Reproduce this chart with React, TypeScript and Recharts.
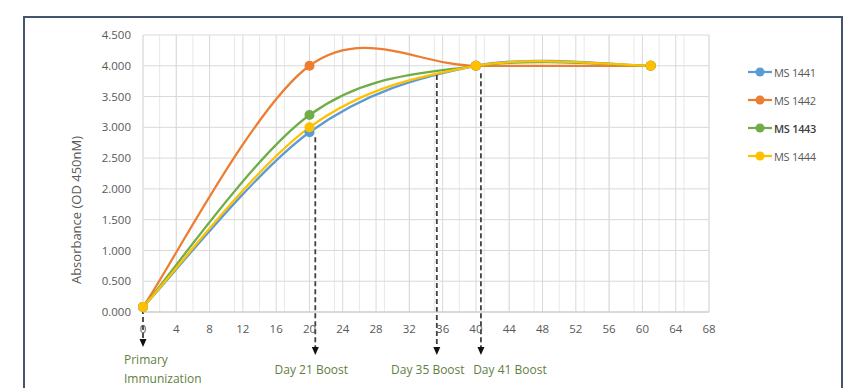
import React from 'react';
import { LineChart, Line, XAxis, YAxis, CartesianGrid, ReferenceLine } from 'recharts';

// ---- data ----
const days = [0, 20, 40, 61];
const ms1441 = [0.08, 2.92, 4.0, 4.0];
const ms1442 = [0.08, 4.0, 4.0, 4.0];
const ms1443 = [0.08, 3.2, 4.0, 4.0];
const ms1444 = [0.08, 3.0, 4.0, 4.0];

const seriesNames = ['MS 1441', 'MS 1442', 'MS 1443', 'MS 1444'];
const seriesValues = [ms1441, ms1442, ms1443, ms1444];
const seriesColors = ['#5b9bd5', '#ed7d31', '#70ad47', '#ffc000'];

const xTicks = [0, 4, 8, 12, 16, 20, 24, 28, 32, 36, 40, 44, 48, 52, 56, 60, 64, 68];
const xMinorTicks = [
  0, 1, 2, 3, 4, 5, 6, 7, 8, 9, 10, 11, 12, 13, 14, 15, 16, 17, 18, 19, 20, 21, 22, 23, 24,
  25, 26, 27, 28, 29, 30, 31, 32, 33, 34, 35, 36, 37, 38, 39, 40, 41, 42, 43, 44, 45, 46, 47,
  48, 49, 50, 51, 52, 53, 54, 55, 56, 57, 58, 59, 60, 61, 62, 63, 64, 65, 66, 67, 68,
];
const yTicks = [0, 0.5, 1, 1.5, 2, 2.5, 3, 3.5, 4, 4.5];

// annotation arrows (day, top value, bottom value)
const boostLabels = [['Primary', 'Immunization'], ['Day 21 Boost'], ['Day 35 Boost'], ['Day 41 Boost']];
const boostDays = [0, 20.7, 35.3, 40.6];
const boostTop = [0.05, 2.84, 3.85, 3.88];
const boostBottom = [-0.57, -0.7, -0.7, -0.7];

const chartData = days.map((d, i) => {
  const row: any = { day: d };
  seriesNames.forEach((n, s) => (row[n] = seriesValues[s][i]));
  return row;
});

// Excel-like smoothed line (Bezier with 1/6 tangents)
function excelCurve(context: any) {
  let pts: number[][] = [];
  return {
    areaStart() {},
    areaEnd() {},
    lineStart() {
      pts = [];
    },
    point(x: number, y: number) {
      pts.push([+x, +y]);
    },
    lineEnd() {
      const n = pts.length;
      if (!n) return;
      context.moveTo(pts[0][0], pts[0][1]);
      for (let i = 0; i < n - 1; i++) {
        const p0 = pts[Math.max(i - 1, 0)];
        const p1 = pts[i];
        const p2 = pts[i + 1];
        const p3 = pts[Math.min(i + 2, n - 1)];
        const c1x = p1[0] + (p2[0] - p0[0]) / 6;
        const c1y = p1[1] + (p2[1] - p0[1]) / 6;
        const c2x = p2[0] - (p3[0] - p1[0]) / 6;
        const c2y = p2[1] - (p3[1] - p1[1]) / 6;
        context.bezierCurveTo(c1x, c1y, c2x, c2y, p2[0], p2[1]);
      }
    },
  };
}

const FONT = '"Open Sans", "Liberation Sans", sans-serif';
const labelDx = [-19, -4, -9, 29];

const makeArrowShape = (idx: number) => (props: any) => {
  const x = props.x1;
  const yTop = Math.min(props.y1, props.y2);
  const yTip = Math.max(props.y1, props.y2);
  const lines = boostLabels[idx];
  const green = '#5f7f3f';
  return (
    <g>
      <line x1={x} y1={yTop} x2={x} y2={yTip - 7} stroke="#404040" strokeWidth={1.8} strokeDasharray="5 3" />
      <polygon points={`${x - 3.5},${yTip - 8} ${x + 3.5},${yTip - 8} ${x},${yTip}`} fill="#111" />
      {lines.length === 2 ? (
        <text x={x + labelDx[idx]} y={yTip + 17} fontFamily={FONT} fontSize={12} fill={green} textAnchor="start">
          <tspan x={x + labelDx[idx]}>{lines[0]}</tspan>
          <tspan x={x + labelDx[idx]} dy={19}>{lines[1]}</tspan>
        </text>
      ) : (
        <text x={x + labelDx[idx]} y={yTip + 19} fontFamily={FONT} fontSize={12} fill={green} textAnchor="middle">
          {lines[0]}
        </text>
      )}
    </g>
  );
};

const YLabel = () => (
  <text
    x={78}
    y={210}
    transform="rotate(-90 78 210)"
    textAnchor="middle"
    dominantBaseline="middle"
    fontFamily={FONT}
    fontSize={13}
    fill="#595959"
  >
    Absorbance (OD 450nM)
  </text>
);

export default function App() {
  return (
    <div style={{ position: 'absolute', left: 0, top: 0, width: 845, height: 388, overflow: 'hidden', background: '#fff' }}>
      <div
        style={{
          position: 'absolute',
          left: 23,
          top: 16,
          width: 816,
          height: 420,
          border: '2px solid #44546a',
          boxSizing: 'content-box',
        }}
      />
      <div style={{ position: 'absolute', left: 0, top: 0 }}>
        <LineChart width={845} height={388} data={chartData} margin={{ top: 35, right: 136, bottom: 46, left: 83 }}>
          <XAxis xAxisId="minor" dataKey="day" type="number" domain={[0, 68]} ticks={xMinorTicks} hide />
          <CartesianGrid xAxisId="minor" horizontal={false} stroke="#e8e8e8" strokeWidth={1} />
          <CartesianGrid stroke="#d9d9d9" strokeWidth={1} />
          <XAxis
            dataKey="day"
            type="number"
            domain={[0, 68]}
            ticks={xTicks}
            interval={0}
            height={30}
            tickLine={false}
            tickSize={0}
            tickMargin={13}
            axisLine={{ stroke: '#c8c8c8' }}
            tick={{ fill: '#595959', fontSize: 11.5, fontFamily: FONT }}
          />
          <YAxis
            type="number"
            domain={[0, 4.5]}
            ticks={yTicks}
            interval={0}
            width={60}
            tickLine={false}
            tickSize={0}
            tickMargin={12}
            axisLine={false}
            tickFormatter={(v: number) => v.toFixed(3)}
            tick={{ fill: '#595959', fontSize: 11.5, fontFamily: FONT }}
            label={<YLabel />}
          />
          {seriesNames.map((n, s) => (
            <Line
              key={n}
              dataKey={n}
              type={excelCurve as any}
              stroke={seriesColors[s]}
              strokeWidth={2.25}
              dot={{ r: 5, fill: seriesColors[s], stroke: seriesColors[s], strokeWidth: 0 }}
              activeDot={false}
              isAnimationActive={false}
            />
          ))}
          {boostDays.map((d, i) => (
            <ReferenceLine
              key={i}
              segment={[
                { x: d, y: boostTop[i] },
                { x: d, y: boostBottom[i] },
              ]}
              ifOverflow="visible"
              shape={makeArrowShape(i)}
            />
          ))}
        </LineChart>
      </div>
      <div style={{ position: 'absolute', left: 747, top: 58 }}>
        {seriesNames.map((n, s) => (
          <div key={n} style={{ display: 'flex', alignItems: 'center', height: 28 }}>
            <svg width={26} height={12} style={{ display: 'block' }}>
              <line x1={1} y1={6} x2={25} y2={6} stroke={seriesColors[s]} strokeWidth={2.25} />
              <circle cx={13} cy={6} r={4.5} fill={seriesColors[s]} />
            </svg>
            <span
              style={{
                fontFamily: FONT,
                fontSize: 11,
                color: s === 2 ? '#404040' : '#595959',
                fontWeight: s === 2 ? 600 : 400,
                marginLeft: 1,
                letterSpacing: -0.3,
              }}
            >
              {n}
            </span>
          </div>
        ))}
      </div>
    </div>
  );
}
